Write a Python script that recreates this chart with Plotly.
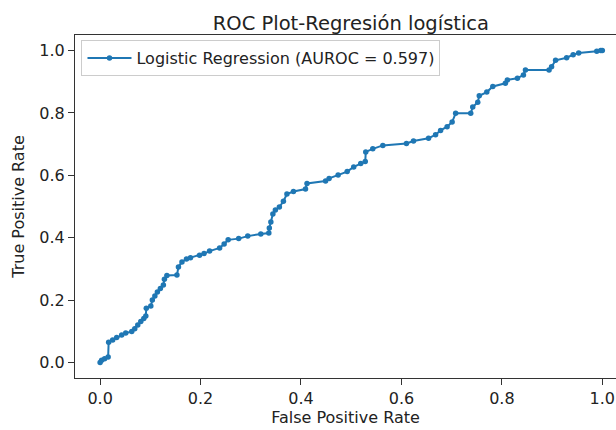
import plotly.graph_objects as go

fpr = [0.000, 0.003, 0.009, 0.016, 0.017, 0.025, 0.033, 0.043, 0.051, 0.063,
       0.069, 0.075, 0.081, 0.087, 0.091, 0.092, 0.101, 0.104, 0.109, 0.114,
       0.120, 0.126, 0.128, 0.133, 0.153, 0.156, 0.163, 0.172, 0.180, 0.198,
       0.207, 0.218, 0.238, 0.247, 0.255, 0.276, 0.294, 0.320, 0.336, 0.337,
       0.340, 0.344, 0.349, 0.357, 0.365, 0.372, 0.385, 0.409, 0.412, 0.449,
       0.456, 0.474, 0.492, 0.505, 0.519, 0.528, 0.529, 0.543, 0.563, 0.610,
       0.624, 0.654, 0.668, 0.678, 0.691, 0.701, 0.708, 0.738, 0.742, 0.752,
       0.755, 0.770, 0.782, 0.807, 0.811, 0.831, 0.843, 0.847, 0.894, 0.899,
       0.907, 0.929, 0.942, 0.953, 0.989, 0.997, 1.000]
tpr = [0.000, 0.007, 0.012, 0.017, 0.065, 0.072, 0.080, 0.088, 0.094, 0.099,
       0.108, 0.120, 0.131, 0.141, 0.149, 0.174, 0.181, 0.200, 0.213, 0.226,
       0.237, 0.248, 0.267, 0.279, 0.280, 0.306, 0.322, 0.332, 0.336, 0.344,
       0.349, 0.357, 0.367, 0.380, 0.393, 0.397, 0.405, 0.412, 0.415, 0.431,
       0.450, 0.476, 0.489, 0.498, 0.517, 0.540, 0.548, 0.556, 0.574, 0.582,
       0.590, 0.601, 0.612, 0.627, 0.638, 0.644, 0.675, 0.685, 0.696, 0.702,
       0.710, 0.719, 0.730, 0.744, 0.756, 0.771, 0.799, 0.799, 0.819, 0.834,
       0.855, 0.867, 0.885, 0.895, 0.906, 0.911, 0.922, 0.938, 0.938, 0.948,
       0.969, 0.977, 0.987, 0.992, 0.998, 1.000, 1.000]

series_name = "Logistic Regression (AUROC = 0.597)"
title_text = "ROC Plot-Regresión logística"
x_label = "False Positive Rate"
y_label = "True Positive Rate"
tick_vals = [0.0, 0.2, 0.4, 0.6, 0.8, 1.0]
tick_text = ["0.0", "0.2", "0.4", "0.6", "0.8", "1.0"]

FONT = "DejaVu Sans"
TXT = "#222222"
FS = 16

fig = go.Figure()
fig.add_trace(go.Scatter(
    x=fpr, y=tpr, mode="lines+markers", name=series_name,
    line=dict(color="#1f77b4", width=2),
    marker=dict(color="#1f77b4", size=5.5),
    showlegend=True,
))

axis_common = dict(
    showgrid=False, zeroline=False, showline=True, linecolor="#333333", linewidth=1,
    ticks="outside", ticklen=6, tickcolor="#333333", tickwidth=1,
    tickfont=dict(family=FONT, size=FS, color=TXT),
    tickvals=tick_vals, ticktext=tick_text,
)

fig.update_layout(
    width=616, height=430,
    margin=dict(l=75, r=0, t=35, b=52),
    paper_bgcolor="white", plot_bgcolor="white",
    font=dict(family=FONT, size=FS, color=TXT),
    title=dict(text=title_text, x=0.51, xref="paper", xanchor="center",
               y=1, yref="paper", yanchor="bottom", pad=dict(b=5),
               font=dict(family=FONT, size=19.5, color=TXT)),
    xaxis=dict(range=[-0.05, 1.0273], mirror=True,
               title=dict(text=x_label, font=dict(family=FONT, size=FS, color=TXT), standoff=2),
               **axis_common),
    yaxis=dict(range=[-0.05, 1.05], mirror=False,
               title=dict(text=y_label, font=dict(family=FONT, size=FS, color=TXT), standoff=10),
               **axis_common),
    legend=dict(x=0.012, y=0.985, xanchor="left", yanchor="top", itemwidth=44,
                bordercolor="#cccccc", borderwidth=1, bgcolor="rgba(255,255,255,0.8)",
                font=dict(family=FONT, size=FS, color=TXT)),
)

fig.write_html("out.html")
